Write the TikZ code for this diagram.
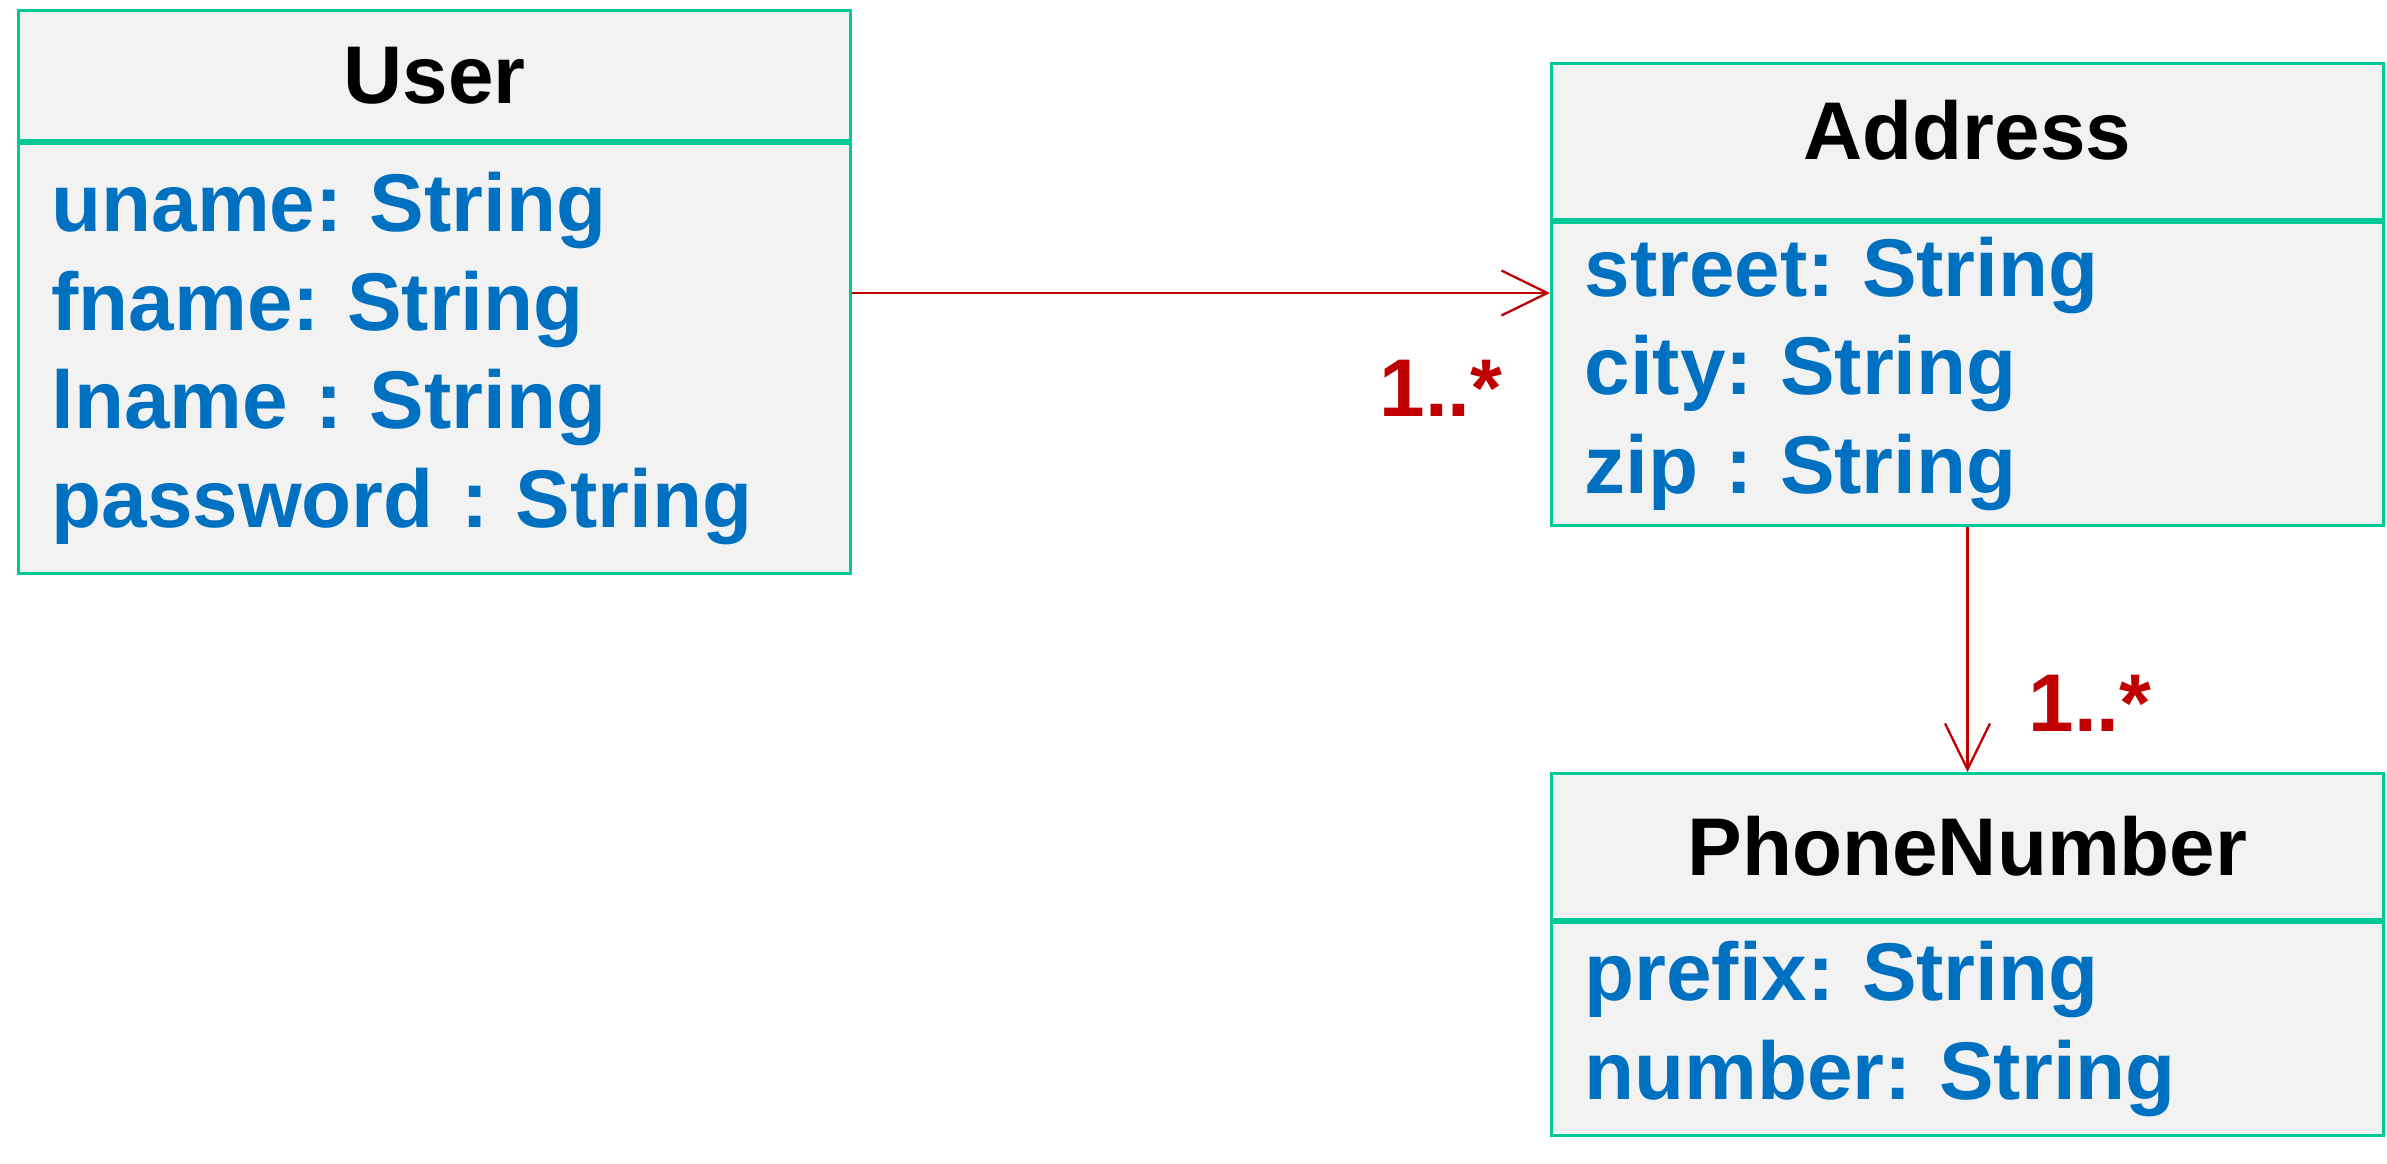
\documentclass[tikz,border=0pt]{standalone}
\usepackage{fontspec}
\setmainfont{Liberation Sans}
\usetikzlibrary{positioning,arrows.meta}
\definecolor{classline}{RGB}{0,200,150}
\definecolor{classfill}{RGB}{242,242,242}
\definecolor{attrblue}{RGB}{0,112,192}
\definecolor{multred}{RGB}{192,0,0}
\def\classwidth{8.32cm}
\def\classfont{\fontsize{23.3pt}{28.1pt}\selectfont\bfseries\frenchspacing}

\begin{document}
\begin{tikzpicture}[>={Straight Barb[length=4.6mm,width=4.5mm]}]
    \tikzstyle{class part}=[rectangle,draw=classline,fill=classfill,line width=0.3mm,
        minimum width=\classwidth,inner sep=0pt,font=\classfont]
    \tikzstyle{class head}=[class part,text=black,anchor=north west]
    \tikzstyle{class body}=[class part,text=attrblue,text width=\classwidth-6.6mm,
        inner xsep=3.3mm,align=left]
    \tikzstyle{assoc}=[->,draw=multred,line width=0.23mm]
    \tikzstyle{mult}=[text=multred,font=\classfont,anchor=base east]

    \useasboundingbox (0,0) rectangle (23.87,-11.63);

    % Draw the User class
    \node[class head,minimum height=1.30cm] (U-head) at (0.17,-0.09) {User};
    \node[class body,minimum height=4.30cm,below=0pt of U-head] (U-body)
        {uname: String\\fname: String\\lname : String\\password : String};

    % Draw the Address class
    \node[class head,minimum height=1.56cm,text depth=2.4mm] (A-head) at (15.50,-0.62) {Address};
    \node[class body,minimum height=3.03cm,below=0pt of A-head] (A-body)
        {street: String\\city: String\\zip : String};

    % Draw the PhoneNumber class
    \node[class head,minimum height=1.46cm] (P-head) at (15.50,-7.72) {PhoneNumber};
    \node[class body,minimum height=2.13cm,below=0pt of P-head] (P-body)
        {prefix: String\\number: String};

    % Connect the classes
    \coordinate (U-out) at ([yshift=-15.1mm]U-body.north east);
    \draw[assoc] (U-out) -- (A-body.west |- U-out);
    \draw[assoc] (A-body.south) -- (P-head.north);

    % Annotate the multiplicities
    \node[mult] (m-addr) at (15.15,-4.16) {1..*};
    \node[mult] (m-phone) at (21.64,-7.31) {1..*};
\end{tikzpicture}
\end{document}
